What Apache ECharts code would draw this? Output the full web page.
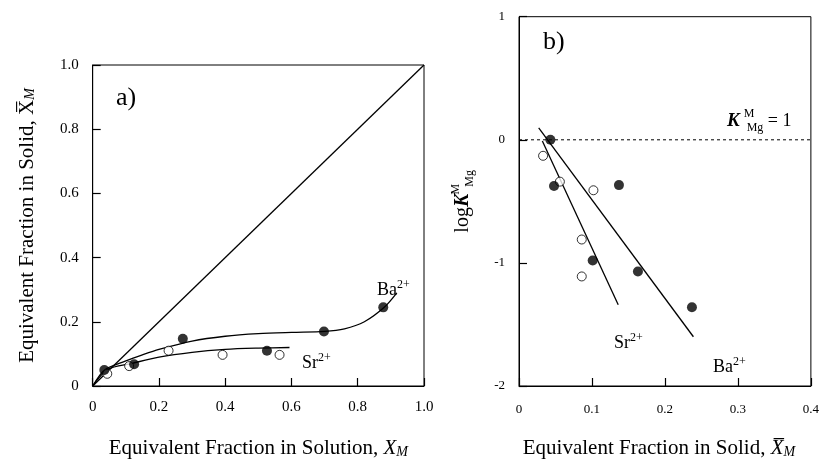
<!DOCTYPE html>
<html>
<head>
<meta charset="utf-8">
<script src="https://cdn.jsdelivr.net/npm/echarts@6/dist/echarts.min.js"></script>
<style>
  html, body { margin: 0; padding: 0; background: #fff; }
  #chart { width: 822px; height: 464px; }
</style>
</head>
<body>
<div id="chart"></div>
<script>
// Panel a) - solid vs solution fraction
const baSolution = [0.035, 0.125, 0.272, 0.526, 0.698, 0.877];
const baSolid = [0.05, 0.068, 0.147, 0.11, 0.17, 0.245];
const srSolution = [0.044, 0.11, 0.229, 0.392, 0.564];
const srSolid = [0.038, 0.062, 0.11, 0.097, 0.097];
const baCurveX = [0, 0.036, 0.1, 0.15, 0.2, 0.3, 0.4, 0.5, 0.6, 0.7, 0.76, 0.82, 0.88, 0.918];
const baCurveY = [0, 0.05, 0.078, 0.097, 0.114, 0.14, 0.155, 0.163, 0.167, 0.17, 0.178, 0.2, 0.245, 0.29];
const srCurveX = [0, 0.046, 0.117, 0.2, 0.3, 0.4, 0.5, 0.594];
const srCurveY = [0, 0.052, 0.07, 0.09, 0.105, 0.114, 0.118, 0.12];
const diagonal = [[0, 0], [1, 1]];

// Panel b) - log K vs solid fraction
const baSolidB = [0.043, 0.048, 0.137, 0.101, 0.163, 0.237];
const baLogK = [0, -0.375, -0.368, -0.98, -1.07, -1.36];
const srSolidB = [0.033, 0.056, 0.102, 0.086, 0.086];
const srLogK = [-0.13, -0.34, -0.41, -0.81, -1.11];
const baFit = [[0.027, 0.096], [0.239, -1.6]];
const srFit = [[0.032, -0.01], [0.136, -1.34]];
const unityLine = [[0, 0], [0.4, 0]];

const FONT = 'Liberation Serif';
const zip = (xs, ys) => xs.map((x, i) => [x, ys[i]]);

const chart = echarts.init(document.getElementById('chart'));

const titleRich = {
  n: { fontFamily: FONT, fontSize: 21, color: '#000' },
  i: { fontFamily: FONT, fontSize: 21, fontStyle: 'italic', color: '#000' },
  s: { fontFamily: FONT, fontSize: 14, fontStyle: 'italic', color: '#000', verticalAlign: 'bottom', padding: [7, 0, 0, 0] }
};

const ionRich = {
  n: { fontFamily: FONT, fontSize: 18, color: '#000', lineHeight: 22 },
  sup: { fontFamily: FONT, fontSize: 12, color: '#000', verticalAlign: 'top', lineHeight: 22 }
};

function tickAxis(extra) {
  return Object.assign({
    type: 'value',
    axisLine: { show: true, onZero: false, lineStyle: { color: '#000', width: 1 } },
    axisTick: { show: true, inside: true, length: 8, lineStyle: { color: '#000', width: 1.2 } },
    splitLine: { show: false },
    nameLocation: 'middle'
  }, extra);
}

const scatterFilled = { type: 'scatter', symbol: 'circle', symbolSize: 10,
  itemStyle: { color: '#000' }, z: 5 };
const scatterOpen = { type: 'scatter', symbol: 'circle', symbolSize: 9,
  itemStyle: { color: '#fff', borderColor: '#000', borderWidth: 1 }, z: 5 };
const thinLine = { type: 'line', showSymbol: false, symbol: 'none',
  lineStyle: { color: '#000', width: 1.3 }, z: 3 };

chart.setOption({
  animation: false,
  backgroundColor: '#fff',
  grid: [
    { left: 92.7, top: 65, width: 331.3, height: 333.3, show: true, borderColor: '#000', borderWidth: 1 },
    { left: 519, top: 16.7, width: 295, height: 381.7, show: true, borderColor: '#000', borderWidth: 1 }
  ],
  xAxis: [
    tickAxis({
      gridIndex: 0, min: 0, max: 1, interval: 0.2,
      axisLabel: { fontFamily: FONT, fontSize: 15, color: '#000', margin: 14,
        formatter: v => v === 0 ? '0' : v.toFixed(1) },
      name: '{n|Equivalent Fraction in Solution, }{i|X}{s|M}',
      nameGap: 52, nameTextStyle: { rich: titleRich }
    }),
    tickAxis({
      gridIndex: 1, min: 0, max: 0.4, interval: 0.1,
      axisLabel: { fontFamily: FONT, fontSize: 13, color: '#000', margin: 17,
        formatter: v => v === 0 ? '0' : v.toFixed(1) },
      name: '{n|Equivalent Fraction in Solid, }{i|X\u0305}{s|M}',
      nameGap: 52, nameTextStyle: { rich: titleRich, padding: [0, 12, 0, 0] }
    })
  ],
  yAxis: [
    tickAxis({
      gridIndex: 0, min: 0, max: 1, interval: 0.2,
      axisLabel: { fontFamily: FONT, fontSize: 15, color: '#000', margin: 14,
        formatter: v => v === 0 ? '0' : v.toFixed(1) },
      name: '{n|Equivalent Fraction in Solid, }{n|X\u0305}{s|M}',
      nameGap: 55, nameRotate: 90, nameTextStyle: { rich: titleRich }
    }),
    tickAxis({
      gridIndex: 1, min: -2, max: 1, interval: 1,
      axisLabel: { fontFamily: FONT, fontSize: 13, color: '#000', margin: 14 },
      name: '{n|log}{k|K}{m|M}{g|Mg}',
      nameGap: 43, nameRotate: 90,
      nameTextStyle: { rich: {
        n: { fontFamily: FONT, fontSize: 20, color: '#000', lineHeight: 26 },
        k: { fontFamily: FONT, fontSize: 20, fontStyle: 'italic', fontWeight: 'bold', color: '#000', lineHeight: 26 },
        m: { fontFamily: FONT, fontSize: 12, color: '#000', verticalAlign: 'top', width: 1, lineHeight: 26, padding: [0, 0, 0, 4] },
        g: { fontFamily: FONT, fontSize: 12, color: '#000', verticalAlign: 'bottom', lineHeight: 26, padding: [0, 0, 0, 2] }
      } }
    })
  ],
  series: [
    Object.assign({}, thinLine, { name: 'diagonal', xAxisIndex: 0, yAxisIndex: 0, data: diagonal }),
    Object.assign({}, thinLine, { name: 'Ba curve', xAxisIndex: 0, yAxisIndex: 0, smooth: 0.3,
      data: zip(baCurveX, baCurveY) }),
    Object.assign({}, thinLine, { name: 'Sr curve', xAxisIndex: 0, yAxisIndex: 0, smooth: 0.3,
      data: zip(srCurveX, srCurveY) }),
    Object.assign({}, scatterOpen, { name: 'Sr a', xAxisIndex: 0, yAxisIndex: 0, data: zip(srSolution, srSolid) }),
    Object.assign({}, scatterFilled, { name: 'Ba a', xAxisIndex: 0, yAxisIndex: 0, data: zip(baSolution, baSolid) }),

    Object.assign({}, thinLine, { name: 'K=1', xAxisIndex: 1, yAxisIndex: 1, data: unityLine,
      lineStyle: { color: '#000', width: 1, type: [3, 3] } }),
    Object.assign({}, thinLine, { name: 'Ba fit', xAxisIndex: 1, yAxisIndex: 1, data: baFit }),
    Object.assign({}, thinLine, { name: 'Sr fit', xAxisIndex: 1, yAxisIndex: 1, data: srFit }),
    Object.assign({}, scatterOpen, { name: 'Sr b', xAxisIndex: 1, yAxisIndex: 1, data: zip(srSolidB, srLogK) }),
    Object.assign({}, scatterFilled, { name: 'Ba b', xAxisIndex: 1, yAxisIndex: 1, data: zip(baSolidB, baLogK) })
  ],
  graphic: [
    { type: 'text', left: 116, top: 85, style: { text: 'a)', font: '26px "Liberation Serif"', fill: '#000' } },
    { type: 'text', left: 377, top: 279, style: { text: '{n|Ba}{sup|2+}', rich: ionRich } },
    { type: 'text', left: 302, top: 352, style: { text: '{n|Sr}{sup|2+}', rich: ionRich } },
    { type: 'text', left: 543, top: 29, style: { text: 'b)', font: '26px "Liberation Serif"', fill: '#000' } },
    { type: 'text', left: 614, top: 332, style: { text: '{n|Sr}{sup|2+}', rich: ionRich } },
    { type: 'text', left: 713, top: 356, style: { text: '{n|Ba}{sup|2+}', rich: ionRich } },
    { type: 'text', left: 727, top: 108, style: {
      text: '{k|K}{m|M}{g|Mg}{t| = 1}',
      rich: {
        k: { fontFamily: FONT, fontSize: 19, fontStyle: 'italic', fontWeight: 'bold', fill: '#000', lineHeight: 26 },
        m: { fontFamily: FONT, fontSize: 12, fill: '#000', verticalAlign: 'top', width: 1, lineHeight: 26, padding: [0, 0, 0, 4] },
        g: { fontFamily: FONT, fontSize: 12, fill: '#000', verticalAlign: 'bottom', lineHeight: 26, padding: [0, 0, 0, 2] },
        t: { fontFamily: FONT, fontSize: 18, fill: '#000', lineHeight: 26 }
      } } }
  ]
});
</script>
</body>
</html>
